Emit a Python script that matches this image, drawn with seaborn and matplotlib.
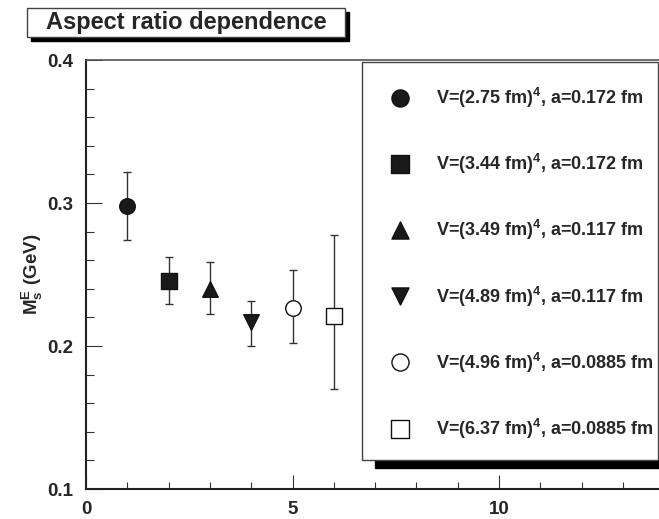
import matplotlib
matplotlib.use("Agg")
import matplotlib.pyplot as plt
from matplotlib.patches import Rectangle
from matplotlib.ticker import MultipleLocator
import seaborn as sns
import pandas as pd

# ---- data ----
aspect = [1, 2, 3, 4, 5, 6]
mass = [0.2977, 0.2458, 0.2398, 0.2166, 0.2267, 0.2212]
err_low = [0.0237, 0.0165, 0.0175, 0.0164, 0.0248, 0.0514]
err_high = [0.0242, 0.0165, 0.0188, 0.0150, 0.0261, 0.0567]
labels = [
    r"V=(2.75 fm)$^{\mathbf{4}}$, a=0.172 fm",
    r"V=(3.44 fm)$^{\mathbf{4}}$, a=0.172 fm",
    r"V=(3.49 fm)$^{\mathbf{4}}$, a=0.117 fm",
    r"V=(4.89 fm)$^{\mathbf{4}}$, a=0.117 fm",
    r"V=(4.96 fm)$^{\mathbf{4}}$, a=0.0885 fm",
    r"V=(6.37 fm)$^{\mathbf{4}}$, a=0.0885 fm",
]
title = "Aspect ratio dependence"
ylabel = r"$\mathbf{M_s^E}$ (GeV)"

# ---- styles ----
markers = ["o", "s", "^", "v", "o", "s"]
faces = ["#1a1a1a", "#1a1a1a", "#1a1a1a", "#1a1a1a", "white", "white"]

sns.set_style("ticks")
plt.rcParams["font.family"] = ["Liberation Sans", "DejaVu Sans"]
plt.rcParams["font.weight"] = "bold"
plt.rcParams["mathtext.fontset"] = "custom"
plt.rcParams["mathtext.rm"] = "Liberation Sans:bold"
plt.rcParams["mathtext.bf"] = "Liberation Sans:bold"
plt.rcParams["mathtext.it"] = "Liberation Sans:bold"

fig = plt.figure(figsize=(6.59, 5.19), dpi=100)
ax = fig.add_axes([86 / 659, 1 - 489 / 519, 573 / 659, 429 / 519])

df = pd.DataFrame({"x": aspect, "y": mass, "lab": labels})
for i in range(len(aspect)):
    ax.errorbar(aspect[i], mass[i], yerr=[[err_low[i]], [err_high[i]]],
                fmt="none", ecolor="#333333", elinewidth=1.0, capsize=3,
                capthick=1.0, zorder=2)
    sns.scatterplot(data=df.iloc[[i]], x="x", y="y", marker=markers[i], s=125,
                    color=faces[i], edgecolor="#111111", linewidth=1.0,
                    label=labels[i], ax=ax, zorder=3)

ax.set_xlim(0, 13.87)
ax.set_ylim(0.1, 0.4)
ax.xaxis.set_minor_locator(MultipleLocator(1))
ax.yaxis.set_minor_locator(MultipleLocator(0.02))
ax.set_xticks([0, 5, 10])
ax.set_xticklabels(["0", "5", "10"])
ax.set_yticks([0.1, 0.2, 0.3, 0.4])
ax.set_yticklabels(["0.1", "0.2", "0.3", "0.4"])
ax.tick_params(axis="both", which="both", direction="in", color="#333333",
               width=0.8, labelsize=13.5, top=False, right=False)
ax.tick_params(axis="y", which="major", length=11.5, pad=9.5)
ax.tick_params(axis="y", which="minor", length=5.8)
ax.tick_params(axis="x", which="major", length=10, pad=8.5)
ax.tick_params(axis="x", which="minor", length=5)
for lab in ax.get_xticklabels() + ax.get_yticklabels():
    lab.set_fontweight("bold")
ax.set_xlabel("")
ax.set_ylabel(ylabel, fontsize=13.5, fontweight="bold", labelpad=1)

ax.spines["right"].set_visible(False)
ax.spines["left"].set_linewidth(1.5)
ax.spines["bottom"].set_linewidth(1.5)
ax.spines["left"].set_color("#222222")
ax.spines["bottom"].set_color("#222222")
ax.spines["top"].set_linewidth(1.2)
ax.spines["top"].set_color("#555555")

# legend box with shadow
bx0, by0, bx1, by1 = 0.4817, 0.0676, 0.9977, 0.9946
dx, dy = 13 / 573, 8 / 429
ax.add_patch(Rectangle((bx0 + dx, by0 - dy), bx1 - bx0, by1 - by0,
                       transform=ax.transAxes, facecolor="black",
                       edgecolor="black", clip_on=False, zorder=5))
ax.add_patch(Rectangle((bx0, by0), bx1 - bx0, by1 - by0,
                       transform=ax.transAxes, facecolor="white",
                       edgecolor="#444444", linewidth=1.0, clip_on=False,
                       zorder=6))
leg = ax.legend(loc="upper left", bbox_to_anchor=((391 - 86) / 573, (489 - 86) / 429),
                frameon=False, fontsize=13, handlelength=1.0,
                handletextpad=1.5, labelspacing=2.33, borderpad=0,
                borderaxespad=0, scatteryoffsets=[0.5], markerscale=1.1)
leg.set_zorder(7)
for t in leg.get_texts():
    t.set_fontweight("bold")

# title box with shadow
tx0, ty0 = 27 / 659, 1 - 37 / 519
tw, th = 318 / 659, 29 / 519
fig.patches.append(Rectangle((tx0 + 4 / 659, ty0 - 4 / 519), tw, th,
                             transform=fig.transFigure, facecolor="black",
                             edgecolor="black", zorder=1))
fig.patches.append(Rectangle((tx0, ty0), tw, th, transform=fig.transFigure,
                             facecolor="white", edgecolor="#444444",
                             linewidth=1.0, zorder=2))
fig.text(tx0 + tw / 2, ty0 + th / 2, title, ha="center", va="center",
         fontsize=17, fontweight="bold", zorder=3)

fig.savefig("out.png", dpi=100)
